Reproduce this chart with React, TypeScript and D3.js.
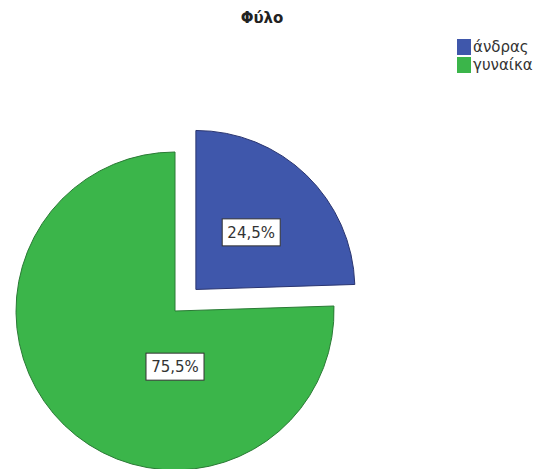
import React from "react";
import * as d3 from "d3";

const title = "Φύλο";
const categories = ["άνδρας", "γυναίκα"];
const values = [24.5, 75.5];
const colors = ["#3f57ab", "#3bb54a"];
const strokes = ["#2a3570", "#2a7a35"];
const exploded = [true, false];

const W = 556;
const H = 469;

export default function App() {
  const cx = 175;
  const cy = 311;
  const r = 159;
  const explode = 30;

  const pie = d3
    .pie<number>()
    .sort(null)
    .startAngle(0)
    .endAngle(2 * Math.PI)
    .value((d) => d);
  const arcs = pie(values);
  const arcGen = d3.arc<d3.PieArcDatum<number>>().innerRadius(0).outerRadius(r);
  const fmt = (v: number) => v.toFixed(1).replace(".", ",") + "%";

  return (
    <svg
      width={W}
      height={H}
      style={{ position: "absolute", left: 0, top: 0, background: "#fff" }}
      fontFamily="'DejaVu Sans', sans-serif"
    >
      <text x={262} y={23} textAnchor="middle" fontSize={15} fontWeight="bold" fill="#222">
        {title}
      </text>
      {arcs.map((a, i) => {
        const mid = (a.startAngle + a.endAngle) / 2;
        const off = exploded[i] ? explode : 0;
        const dx = Math.sin(mid) * off;
        const dy = -Math.cos(mid) * off;
        // label placement: exploded slice at mid-angle, other one straight below centre
        const lAngle = exploded[i] ? mid : Math.PI;
        const lDist = exploded[i] ? r * 0.5 : r * 0.35;
        const lx = Math.sin(lAngle) * lDist;
        const ly = -Math.cos(lAngle) * lDist;
        const label = fmt(values[i]);
        const bw = 58;
        const bh = 27;
        return (
          <g key={i} transform={`translate(${cx + dx},${cy + dy})`}>
            <path d={arcGen(a) || ""} fill={colors[i]} stroke={strokes[i]} strokeWidth={1} />
            <rect
              x={lx - bw / 2}
              y={ly - bh / 2}
              width={bw}
              height={bh}
              fill="#fff"
              stroke="#333"
              strokeWidth={1}
            />
            <text
              x={lx}
              y={ly}
              dy="0.36em"
              textAnchor="middle"
              fontSize={15}
              fill="#333"
            >
              {label}
            </text>
          </g>
        );
      })}
      <g>
        {categories.map((c, i) => (
          <g key={c} transform={`translate(457,${39 + i * 18})`}>
            <rect width={14} height={16} fill={colors[i]} />
            <text x={16} y={13} fontSize={15} fill="#333">
              {c}
            </text>
          </g>
        ))}
      </g>
    </svg>
  );
}
